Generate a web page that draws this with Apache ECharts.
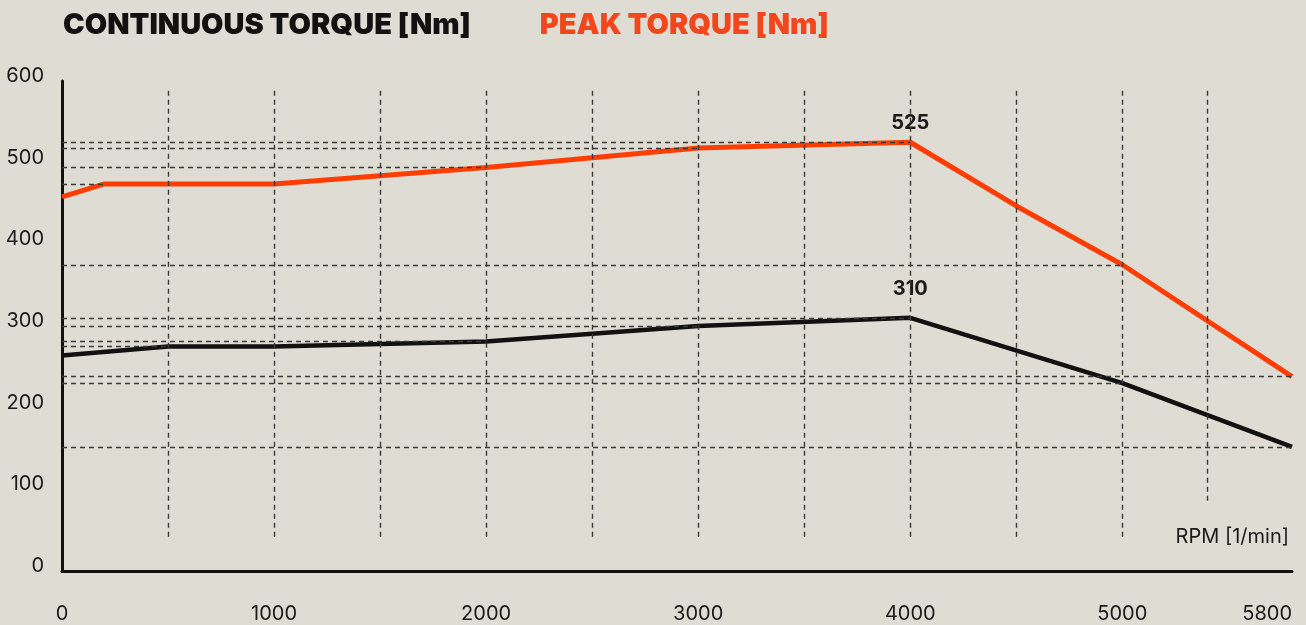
<!DOCTYPE html>
<html>
<head>
<meta charset="utf-8">
<script src="https://cdn.jsdelivr.net/npm/echarts@6/dist/echarts.min.js"></script>
<style>
  html, body { margin: 0; padding: 0; background: #dfdcd4; }
  #chart { width: 1306px; height: 625px; }
</style>
</head>
<body>
<div id="chart"></div>
<script>
// ---- data ----
const seriesNames = ['CONTINUOUS TORQUE [Nm]', 'PEAK TORQUE [Nm]'];
const rpmCont = [0, 500, 1000, 2000, 3000, 4000, 5000, 5800];
const contTorque = [264, 275, 275, 281, 300, 310, 230, 152];
const rpmPeak = [0, 200, 1000, 2000, 3000, 4000, 4500, 5000, 5800];
const peakTorque = [458, 474, 474, 494, 518, 525, 447, 375, 238];
const contRefRpm = [500, 2000, 3000, 4000, 5000, 5800];
const peakRefRpm = [200, 2000, 3000, 4000, 5000, 5800];
const gridRpm = [500, 1000, 1500, 2000, 2500, 3000, 3500, 4000, 4500, 5000, 5400];
const xTickLabels = [0, 1000, 2000, 3000, 4000, 5000, 5800];
const annotated = { cont: 4000, peak: 4000 };

// ---- build ----
const FONT = 'Inter, "Liberation Sans", sans-serif';
const INK = '#1a1a1a';
const ORANGE = '#ff3d00';

function seriesData(xs, ys, annotateX, dist) {
  return xs.map((x, i) => {
    const item = { value: [x, ys[i]] };
    if (x === annotateX) {
      item.label = {
        show: true, position: 'top', distance: dist,
        formatter: p => String(p.value[1]),
        fontFamily: FONT, fontWeight: 'bold', fontSize: 20, color: INK
      };
    }
    return item;
  });
}

function refLines(refXs, xs, ys) {
  return refXs.map(rx => {
    const v = ys[xs.indexOf(rx)];
    return [{ coord: [0, v] }, { coord: [rx, v] }];
  });
}

const dash = { type: [5, 4], width: 1.4, color: '#3a3a3a' };
const horiz = refLines(peakRefRpm, rpmPeak, peakTorque)
  .concat(refLines(contRefRpm, rpmCont, contTorque));
const vert = gridRpm.map((r, i) => [
  { coord: [r, 588] },
  { coord: [r, i === gridRpm.length - 1 ? 83 : 42] }
]);

const chart = echarts.init(document.getElementById('chart'), null, { renderer: 'canvas' });
chart.setOption({
  backgroundColor: '#dfdcd4',
  animation: false,
  textStyle: { fontFamily: FONT },
  legend: {
    data: [
      { name: seriesNames[0], textStyle: { color: '#111111' } },
      { name: seriesNames[1], textStyle: { color: '#f2471c' } }
    ],
    left: 53, top: 6,
    icon: 'none', itemWidth: 0, itemHeight: 0, itemGap: 64,
    selectedMode: false,
    textStyle: { fontFamily: FONT, fontWeight: 900, fontSize: 29 }
  },
  grid: { left: 62, right: 14, top: 81, bottom: 54, containLabel: false },
  xAxis: {
    type: 'value', min: 0, max: 5800, interval: 200,
    name: 'RPM [1/min]', nameLocation: 'end', nameGap: -3,
    nameTextStyle: { align: 'right', verticalAlign: 'bottom', padding: [0, 0, 24, 0],
      fontSize: 20, color: INK, fontFamily: FONT },
    axisLine: { show: true, lineStyle: { color: '#111', width: 3 } },
    axisTick: { show: false },
    splitLine: { show: false },
    axisLabel: {
      margin: 33, fontSize: 20, color: INK, fontFamily: FONT,
      alignMaxLabel: 'right',
      formatter: v => (xTickLabels.indexOf(v) >= 0 ? String(v) : '')
    }
  },
  yAxis: {
    type: 'value', min: 0, max: 600, interval: 100,
    axisLine: { show: true, lineStyle: { color: '#111', width: 3 } },
    axisTick: { show: false },
    splitLine: { show: false },
    axisLabel: { margin: 18, fontSize: 20, color: INK, fontFamily: FONT,
      verticalAlign: 'bottom', lineHeight: 10 }
  },
  series: [
    {
      name: 'grid-lines', type: 'line', data: [], z: 1, silent: true,
      markLine: {
        silent: true, symbol: ['none', 'none'], animation: false,
        label: { show: false }, lineStyle: dash,
        emphasis: { disabled: true },
        data: horiz.concat(vert)
      }
    },
    {
      name: seriesNames[1], type: 'line', z: 3,
      data: seriesData(rpmPeak, peakTorque, annotated.peak, 9),
      symbol: 'circle', symbolSize: 0, showSymbol: true,
      lineStyle: { color: ORANGE, width: 5 }, itemStyle: { color: ORANGE }
    },
    {
      name: seriesNames[0], type: 'line', z: 3,
      data: seriesData(rpmCont, contTorque, annotated.cont, 19),
      symbol: 'circle', symbolSize: 0, showSymbol: true,
      lineStyle: { color: '#111111', width: 4.5 }, itemStyle: { color: '#111111' }
    }
  ]
});
</script>
</body>
</html>
